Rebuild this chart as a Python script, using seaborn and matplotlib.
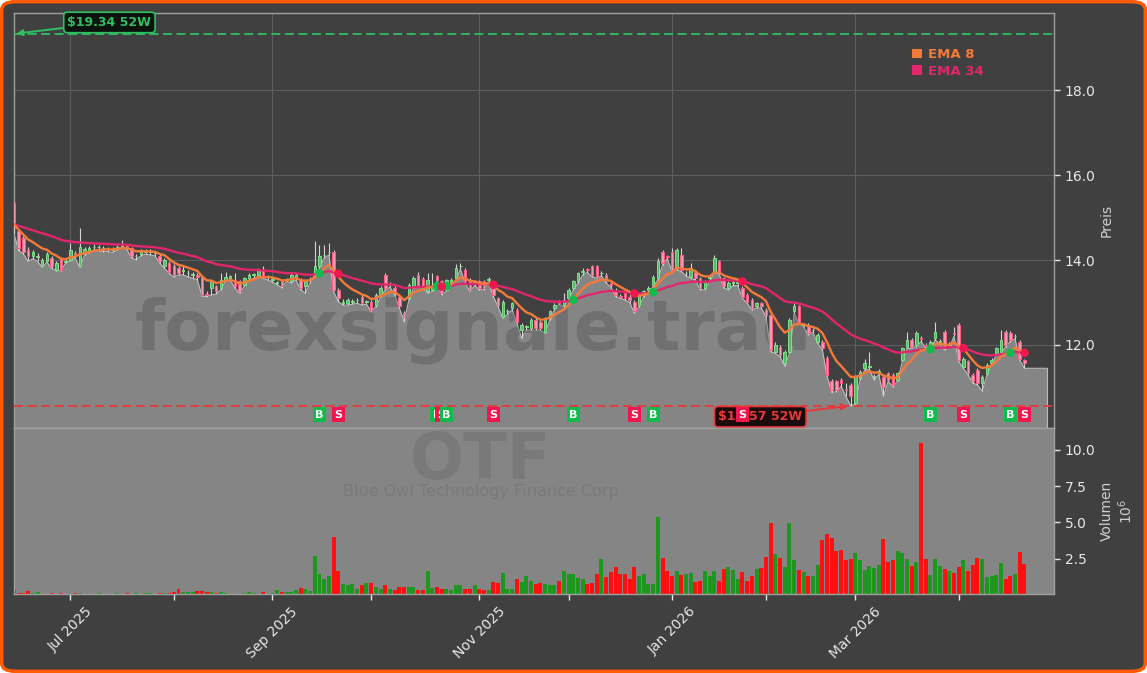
import numpy as np
import pandas as pd
import matplotlib
matplotlib.use("Agg")
import matplotlib.pyplot as plt
from matplotlib.patches import FancyBboxPatch, Rectangle
from matplotlib.ticker import MultipleLocator, FormatStrFormatter
import seaborn as sns

# ---------------- data ----------------
ticker = "OTF"
company = "Blue Owl Technology Finance Corp"
watermark = "forexsignale.trade"
start_date = "2025-06-12"
market_holidays = ["2025-06-19", "2025-07-04", "2025-09-01", "2025-11-27", "2025-12-25",
                   "2026-01-01", "2026-01-19", "2026-02-16", "2026-04-03"]
high_52w = 19.34
low_52w = 10.57

opens = [
    15.35, 14.68, 14.52, 14.24, 14.09, 14.07, 13.85, 13.99, 14.06, 13.77,
    14.05, 13.95, 14.01, 14.17, 13.85, 14.17, 14.20, 14.30, 14.30, 14.28,
    14.26, 14.24, 14.28, 14.32, 14.34, 14.28, 14.09, 14.14, 14.20, 14.20,
    14.17, 14.09, 13.85, 13.93, 13.85, 13.81, 13.75, 13.69, 13.65, 13.65,
    13.61, 13.20, 13.34, 13.38, 13.34, 13.54, 13.57, 13.54, 13.50, 13.42,
    13.57, 13.65, 13.65, 13.77, 13.61, 13.54, 13.46, 13.50, 13.54, 13.50,
    13.57, 13.54, 13.38, 13.54, 13.69, 13.85, 14.12, 14.19, 14.20, 13.30,
    12.98, 12.98, 13.02, 13.05, 13.14, 13.02, 13.02, 12.94, 13.18, 13.65,
    13.42, 13.34, 13.14, 12.75, 13.10, 13.38, 13.65, 13.55, 13.26, 13.30,
    13.62, 13.50, 13.30, 13.42, 13.57, 13.85, 13.77, 13.54, 13.46, 13.50,
    13.50, 13.54, 13.42, 13.10, 12.67, 12.79, 12.87, 12.83, 12.35, 12.43,
    12.39, 12.59, 12.55, 12.31, 12.63, 12.87, 13.02, 12.94, 13.10, 13.34,
    13.50, 13.72, 13.79, 13.85, 13.85, 13.69, 13.65, 13.45, 13.30, 13.15,
    13.22, 13.14, 13.02, 12.94, 13.18, 13.30, 13.42, 13.57, 14.20, 14.09,
    14.20, 13.81, 14.13, 13.69, 13.61, 13.73, 13.57, 13.34, 13.57, 13.73,
    13.97, 13.57, 13.34, 13.46, 13.46, 13.34, 13.18, 13.06, 12.91, 12.98,
    12.83, 12.71, 11.84, 11.96, 11.57, 11.84, 12.79, 12.91, 12.47, 12.47,
    12.35, 12.08, 12.08, 11.69, 11.14, 11.14, 11.18, 10.95, 11.06, 10.63,
    11.21, 11.45, 11.49, 11.25, 11.37, 11.25, 11.33, 11.29, 11.18, 11.65,
    11.96, 12.12, 12.00, 12.16, 12.00, 11.92, 12.16, 12.08, 12.31, 12.00,
    12.28, 12.47, 11.49, 11.61, 11.29, 11.41, 11.10, 11.33, 11.57, 11.80,
    11.84, 12.31, 12.28, 12.20, 12.08, 11.65,
]
highs = [
    15.38, 14.72, 14.56, 14.32, 14.24, 14.17, 14.05, 14.20, 14.10, 13.97,
    14.08, 14.02, 14.40, 14.22, 14.76, 14.30, 14.34, 14.38, 14.36, 14.34,
    14.32, 14.30, 14.36, 14.48, 14.38, 14.32, 14.14, 14.26, 14.26, 14.26,
    14.22, 14.14, 14.05, 13.97, 13.90, 13.85, 13.85, 13.77, 13.73, 13.69,
    13.65, 13.26, 13.52, 13.42, 13.69, 13.73, 13.66, 13.69, 13.54, 13.61,
    13.69, 13.69, 13.81, 13.85, 13.65, 13.60, 13.50, 13.53, 13.58, 13.69,
    13.69, 13.58, 13.54, 13.60, 14.44, 14.36, 14.36, 14.40, 14.24, 13.34,
    13.08, 13.10, 13.08, 13.10, 13.18, 13.06, 13.06, 13.22, 13.38, 13.69,
    13.48, 13.38, 13.18, 12.79, 13.46, 13.62, 13.73, 13.60, 13.69, 13.69,
    13.65, 13.54, 13.55, 13.58, 13.90, 13.93, 13.81, 13.58, 13.52, 13.54,
    13.54, 13.61, 13.46, 13.14, 13.06, 12.85, 13.02, 12.87, 12.51, 12.48,
    12.63, 12.63, 12.59, 12.67, 12.83, 12.98, 13.06, 13.22, 13.34, 13.54,
    13.73, 13.81, 13.81, 13.89, 13.89, 13.75, 13.69, 13.48, 13.34, 13.20,
    13.26, 13.22, 13.06, 13.22, 13.30, 13.38, 13.65, 14.05, 14.24, 14.13,
    14.28, 14.28, 14.28, 13.75, 13.93, 13.77, 13.61, 13.54, 13.65, 14.13,
    14.01, 13.61, 13.50, 13.52, 13.52, 13.38, 13.22, 13.10, 13.02, 13.02,
    12.87, 12.75, 12.08, 12.00, 11.88, 12.63, 12.98, 12.95, 12.52, 12.51,
    12.40, 12.28, 12.12, 11.73, 11.20, 11.18, 11.21, 11.10, 11.10, 11.29,
    11.41, 11.68, 11.84, 11.32, 11.44, 11.29, 11.37, 11.33, 11.37, 11.96,
    12.31, 12.16, 12.32, 12.22, 12.04, 12.12, 12.55, 12.14, 12.35, 12.06,
    12.43, 12.51, 11.72, 11.65, 11.33, 11.45, 11.29, 11.57, 11.70, 11.96,
    12.35, 12.35, 12.32, 12.26, 12.12, 11.68,
]
lows = [
    14.62, 14.22, 14.15, 13.97, 14.03, 13.97, 13.83, 13.95, 13.81, 13.75,
    13.75, 13.93, 13.98, 14.05, 13.83, 14.12, 14.16, 14.24, 14.22, 14.20,
    14.20, 14.18, 14.24, 14.28, 14.26, 14.05, 14.01, 14.10, 14.14, 14.12,
    14.10, 13.93, 13.81, 13.69, 13.60, 13.65, 13.65, 13.61, 13.57, 13.54,
    13.15, 13.14, 13.18, 13.20, 13.30, 13.50, 13.53, 13.34, 13.22, 13.38,
    13.53, 13.57, 13.61, 13.57, 13.53, 13.48, 13.42, 13.35, 13.50, 13.46,
    13.53, 13.30, 13.22, 13.46, 13.65, 13.81, 14.05, 14.12, 13.26, 13.02,
    12.94, 12.94, 12.96, 12.98, 12.94, 12.96, 12.79, 12.90, 13.12, 13.30,
    13.36, 13.18, 12.87, 12.55, 13.05, 13.34, 13.38, 13.36, 13.22, 13.26,
    13.50, 13.18, 13.26, 13.38, 13.53, 13.78, 13.46, 13.26, 13.40, 13.30,
    13.30, 13.48, 13.14, 12.90, 12.63, 12.72, 12.83, 12.51, 12.16, 12.36,
    12.35, 12.35, 12.35, 12.28, 12.59, 12.83, 12.96, 12.90, 13.06, 13.30,
    13.46, 13.65, 13.71, 13.61, 13.57, 13.63, 13.46, 13.36, 13.14, 13.10,
    13.06, 13.00, 12.75, 12.90, 13.14, 13.22, 13.38, 13.53, 13.89, 14.03,
    13.73, 13.77, 13.73, 13.63, 13.57, 13.53, 13.30, 13.30, 13.50, 13.69,
    13.69, 13.34, 13.30, 13.40, 13.40, 13.10, 12.98, 12.83, 12.87, 12.87,
    12.67, 11.84, 11.80, 11.72, 11.50, 11.80, 12.75, 12.51, 12.42, 12.24,
    12.30, 12.04, 11.88, 11.26, 10.88, 10.90, 11.02, 10.79, 10.57, 10.60,
    11.17, 11.41, 11.42, 11.18, 11.30, 10.79, 11.14, 11.02, 11.14, 11.61,
    11.92, 11.92, 11.96, 12.08, 11.92, 11.88, 12.12, 12.02, 11.88, 11.94,
    12.20, 11.61, 11.45, 11.29, 11.10, 11.06, 10.91, 11.29, 11.53, 11.76,
    11.80, 11.96, 12.08, 12.14, 11.64, 11.45,
]
closes = [
    14.84, 14.28, 14.20, 14.09, 14.20, 14.09, 14.01, 14.14, 13.85, 13.93,
    13.77, 13.97, 14.24, 14.14, 14.32, 14.26, 14.28, 14.32, 14.30, 14.28,
    14.27, 14.24, 14.32, 14.34, 14.30, 14.09, 14.09, 14.20, 14.20, 14.20,
    14.17, 13.97, 14.01, 13.73, 13.65, 13.69, 13.77, 13.69, 13.65, 13.61,
    13.18, 13.18, 13.50, 13.26, 13.54, 13.61, 13.62, 13.38, 13.26, 13.57,
    13.65, 13.65, 13.77, 13.61, 13.61, 13.55, 13.46, 13.38, 13.54, 13.65,
    13.65, 13.34, 13.50, 13.55, 13.85, 14.09, 14.13, 14.20, 13.30, 13.10,
    13.02, 13.06, 13.03, 13.06, 12.98, 13.02, 12.83, 13.18, 13.34, 13.34,
    13.42, 13.22, 12.91, 12.67, 13.42, 13.57, 13.42, 13.40, 13.54, 13.40,
    13.54, 13.22, 13.52, 13.54, 13.81, 13.85, 13.50, 13.30, 13.46, 13.34,
    13.34, 13.55, 13.18, 12.94, 13.02, 12.80, 12.98, 12.55, 12.47, 12.43,
    12.59, 12.39, 12.39, 12.63, 12.79, 12.94, 13.00, 13.06, 13.30, 13.50,
    13.69, 13.73, 13.77, 13.65, 13.61, 13.69, 13.50, 13.42, 13.18, 13.14,
    13.10, 13.06, 12.79, 13.18, 13.26, 13.34, 13.61, 13.97, 13.93, 14.08,
    13.77, 14.24, 13.77, 13.69, 13.81, 13.57, 13.34, 13.50, 13.60, 14.05,
    13.73, 13.38, 13.46, 13.47, 13.46, 13.14, 13.02, 12.87, 12.98, 12.91,
    12.71, 11.88, 12.00, 11.76, 11.84, 12.59, 12.91, 12.55, 12.47, 12.28,
    12.35, 12.24, 11.92, 11.30, 10.93, 10.94, 11.10, 10.94, 10.79, 11.25,
    11.37, 11.57, 11.49, 11.25, 11.37, 11.02, 11.18, 11.06, 11.33, 11.92,
    12.12, 11.96, 12.28, 12.15, 11.98, 12.08, 12.31, 12.08, 11.92, 12.00,
    12.26, 11.65, 11.68, 11.33, 11.14, 11.10, 11.25, 11.53, 11.65, 11.92,
    12.12, 12.00, 12.12, 12.20, 11.68, 11.57,
]
volumes_m = [
    0.39, 0.20, 0.20, 0.32, 0.18, 0.27, 0.10, 0.12, 0.15, 0.12,
    0.20, 0.12, 0.10, 0.14, 0.16, 0.10, 0.12, 0.10, 0.15, 0.12,
    0.10, 0.12, 0.14, 0.12, 0.18, 0.12, 0.15, 0.12, 0.14, 0.18,
    0.12, 0.15, 0.18, 0.16, 0.22, 0.46, 0.22, 0.25, 0.25, 0.30,
    0.28, 0.25, 0.25, 0.20, 0.22, 0.15, 0.12, 0.10, 0.12, 0.15,
    0.25, 0.20, 0.12, 0.25, 0.12, 0.15, 0.39, 0.25, 0.22, 0.25,
    0.36, 0.52, 0.43, 0.30, 2.70, 1.48, 1.14, 1.34, 4.02, 1.68,
    0.80, 0.75, 0.80, 0.43, 0.70, 0.84, 0.84, 0.61, 0.43, 0.70,
    0.43, 0.39, 0.57, 0.61, 0.60, 0.57, 0.39, 0.39, 1.68, 0.52,
    0.57, 0.45, 0.43, 0.39, 0.70, 0.70, 0.45, 0.45, 0.70, 0.45,
    0.39, 0.39, 0.93, 0.84, 1.55, 0.45, 0.45, 1.14, 0.93, 1.34,
    1.00, 0.80, 0.86, 0.80, 0.73, 0.73, 1.00, 1.68, 1.48, 1.48,
    1.20, 1.10, 0.80, 0.85, 1.48, 2.50, 1.25, 1.64, 1.98, 1.48,
    1.48, 1.14, 1.98, 1.36, 1.48, 0.80, 0.80, 5.36, 2.60, 1.68,
    1.30, 1.68, 1.41, 1.48, 1.55, 0.93, 1.00, 1.68, 1.30, 1.68,
    1.00, 1.84, 1.98, 1.75, 1.14, 1.64, 1.00, 1.36, 1.82, 1.91,
    2.66, 4.96, 2.84, 2.60, 1.98, 4.96, 2.41, 1.75, 1.64, 1.34,
    1.34, 2.07, 3.80, 4.20, 3.95, 3.07, 3.14, 2.41, 2.50, 2.89,
    2.41, 1.75, 2.05, 1.91, 2.07, 3.89, 2.27, 2.41, 3.07, 2.91,
    2.52, 2.05, 2.32, 10.43, 2.50, 1.41, 2.50, 2.02, 1.82, 1.68,
    1.57, 1.98, 2.41, 1.68, 2.09, 2.60, 2.50, 1.25, 1.36, 1.41,
    2.20, 1.14, 1.36, 1.48, 2.98, 2.16,
]

# ---------------- style ----------------
sns.set_theme(style="dark")
plt.rcParams['font.family'] = ['DejaVu Sans']

BG = '#404040'
FILL = '#858585'
GRID = '#5e5e5e'
SPINE = '#a0a0a0'
TXT = '#e8e8e8'
C_EMA8 = '#f47a3a'
C_EMA34 = '#e2266c'
C_UP_E, C_UP_F = '#7ee08c', '#5cb86a'
C_DN_E, C_DN_F = '#ff5c84', '#f19ab0'
C_VUP, C_VDN = '#1f961f', '#ff1010'
C_BUY, C_SELL = '#12b94c', '#f0164f'
C_HI, C_LO = '#2fbf62', '#e8383a'

n = len(closes)
dates = pd.bdate_range(start_date, periods=n, freq='C', holidays=market_holidays)
df = pd.DataFrame({'date': dates, 'open': opens, 'high': highs, 'low': lows,
                   'close': closes, 'vol': volumes_m})
df['idx'] = np.arange(n)
df['ema8'] = df['close'].ewm(span=8, adjust=False).mean()
df['ema34'] = df['close'].ewm(span=34, adjust=False).mean()
up = df['close'] >= df['open']

fig = plt.figure(figsize=(11.47, 6.73), dpi=100)
fig.patch.set_facecolor('white')
fig.patches.append(FancyBboxPatch((0.0015, 0.0025), 0.997, 0.995,
                                  boxstyle='round,pad=0,rounding_size=0.012',
                                  transform=fig.transFigure, fc=BG, ec='#ff5a00',
                                  lw=2.5, zorder=-10))

ax = fig.add_axes([0.0118, 0.364, 0.9072, 0.6166])
axv = fig.add_axes([0.0118, 0.1174, 0.9072, 0.2466], sharex=ax)
for a in (ax, axv):
    for s in a.spines.values():
        s.set_color(SPINE)
        s.set_linewidth(1.0)
ax.set_facecolor(BG)
axv.set_facecolor(FILL)

ymin = low_52w * 0.95
ymax = high_52w * 1.025
ext = n + 3.8

# grey area under the lows
fx = np.append(df['idx'].values, ext)
fy = np.append(df['low'].values, df['low'].values[-1])
ax.fill_between(fx, fy, ymin, color=FILL, lw=0, zorder=1)
ax.plot(fx, fy, color='#bdbdbd', lw=0.8, zorder=2)
ax.plot([ext, ext], [fy[-1], ymin], color='#bdbdbd', lw=0.8, zorder=2)

# watermark
ax.text(0.465, 0.236, watermark, transform=ax.transAxes, ha='center', va='center',
        fontsize=50, fontweight='bold', color=BG, alpha=0.3, zorder=2.5)

# candles
ax.vlines(df['idx'], df['low'], df['high'], colors='#d4d4d4', lw=0.8, zorder=3)
body_lo = np.minimum(df['open'], df['close'])
body_h = np.maximum(np.abs(df['close'] - df['open']), 0.012)
ax.bar(df['idx'], body_h, bottom=body_lo, width=0.55,
       color=np.where(up, C_UP_F, C_DN_F), edgecolor=np.where(up, C_UP_E, C_DN_E),
       linewidth=0.7, zorder=4)

# EMAs
sns.lineplot(data=df, x='idx', y='ema34', ax=ax, color=C_EMA34, lw=1.7, zorder=5, legend=False)
sns.lineplot(data=df, x='idx', y='ema8', ax=ax, color=C_EMA8, lw=1.7, zorder=5, legend=False)

# crossovers
diff = np.sign(df['ema8'] - df['ema34']).values
bull = [i for i in range(1, n) if diff[i - 1] < 0 and diff[i] > 0]
bear = [i for i in range(1, n) if diff[i - 1] > 0 and diff[i] < 0]
sns.scatterplot(x=df['idx'].values[bull], y=df['ema34'].values[bull], ax=ax, color=C_BUY,
                s=38, edgecolor='none', zorder=6)
sns.scatterplot(x=df['idx'].values[bear], y=df['ema34'].values[bear], ax=ax, color=C_SELL,
                s=38, edgecolor='none', zorder=6)
sig_y = low_52w * 0.98
signals = sorted([(i, 'B', C_BUY) for i in bull] + [(i, 'S', C_SELL) for i in bear])
for k, (i, lab, col) in enumerate(signals):
    ax.text(i, sig_y, lab, ha='center', va='center', color='white', fontsize=8,
            fontweight='bold', zorder=9 + k * 0.01,
            bbox=dict(boxstyle='square,pad=0.22', fc=col, ec='none'))

# 52 week lines
ax.axhline(high_52w, color=C_HI, ls=(0, (5, 2.5)), lw=1.3, zorder=3)
ax.axhline(low_52w, color=C_LO, ls=(0, (5, 2.5)), lw=1.3, zorder=3)
ax.annotate(f'${high_52w:.2f} 52W', xy=(0.5, high_52w), xytext=(67, 8),
            textcoords='offset points', ha='center', va='center', color=C_HI,
            fontsize=9, fontweight='bold', zorder=8,
            bbox=dict(boxstyle='round,pad=0.3', fc='#0c130e', ec=C_HI, lw=1.2),
            arrowprops=dict(arrowstyle='-|>', color=C_HI, lw=1.4, mutation_scale=9,
                            shrinkA=0, shrinkB=0))
imin = int(df['low'].idxmin())
ax.annotate(f'${low_52w:.2f} 52W', xy=(imin, low_52w), xytext=(-65, -8),
            textcoords='offset points', ha='center', va='center', color=C_LO,
            fontsize=9, fontweight='bold', zorder=8,
            bbox=dict(boxstyle='round,pad=0.3', fc='#1a0c0c', ec=C_LO, lw=1.2),
            arrowprops=dict(arrowstyle='-|>', color=C_LO, lw=1.4, mutation_scale=9,
                            shrinkA=0, shrinkB=2))

# legend
handles = [Rectangle((0, 0), 1, 1, fc=C_EMA8, ec='none'),
           Rectangle((0, 0), 1, 1, fc=C_EMA34, ec='none')]
ax.legend(handles, ['EMA 8', 'EMA 34'], loc='upper right', bbox_to_anchor=(0.937, 0.928),
          frameon=False, handlelength=0.75, handleheight=0.75, handletextpad=0.45,
          labelspacing=0.25, borderaxespad=0, prop={'weight': 'bold', 'size': 9.5},
          labelcolor=[C_EMA8, C_EMA34])

# axes limits / ticks
ax.set_xlim(-0.1, n + 5.3)
ax.set_ylim(ymin, ymax)
month_start = [i for i in range(1, n) if dates[i].month != dates[i - 1].month]
major = [i for i in month_start if dates[i].month % 2 == 1]
minor = [i for i in month_start if dates[i].month % 2 == 0]
ax.set_xticks(month_start)
ax.tick_params(axis='x', length=0, labelbottom=False)
ax.grid(True, color=GRID, lw=0.8)
ax.set_axisbelow(True)
ax.yaxis.tick_right()
ax.yaxis.set_label_position('right')
ax.yaxis.set_major_locator(MultipleLocator(2))
ax.yaxis.set_major_formatter(FormatStrFormatter('%.1f'))
ax.tick_params(axis='y', colors=TXT, labelcolor=TXT, labelsize=10, length=4, width=1,
               right=True, left=False)
ax.set_ylabel('Preis', color='#cfcfcf', fontsize=10, labelpad=3)
ax.set_xlabel('')

# volume
axv.bar(df['idx'], df['vol'], width=0.85, color=np.where(up, C_VUP, C_VDN), lw=0, zorder=2)
axv.set_ylim(df['vol'].min(), df['vol'].max() * 1.1)
axv.text(0.449, 0.80, ticker, transform=axv.transAxes, ha='center', va='center',
         fontsize=46, fontweight='bold', color=BG, alpha=0.16, zorder=1)
axv.text(0.449, 0.615, company, transform=axv.transAxes, ha='center', va='center',
         fontsize=11.5, color=BG, alpha=0.16, zorder=1)
axv.yaxis.tick_right()
axv.yaxis.set_label_position('right')
axv.yaxis.set_major_locator(MultipleLocator(2.5))
axv.yaxis.set_major_formatter(FormatStrFormatter('%.1f'))
axv.tick_params(axis='y', colors=TXT, labelcolor=TXT, labelsize=10, length=4, width=1,
                right=True, left=False)
axv.set_ylabel('Volumen\n$10^6$', color='#cfcfcf', fontsize=10, labelpad=3)
axv.set_xticks(major)
axv.set_xticklabels([dates[i].strftime('%b %Y') for i in major], rotation=45, ha='center')
axv.set_xticks(minor, minor=True)
axv.tick_params(axis='x', which='both', colors=TXT, labelcolor=TXT, labelsize=10,
                length=4, width=1, bottom=True)
axv.set_xlabel('')
axv.grid(False)

fig.savefig('out.png', dpi=100, facecolor=fig.get_facecolor())
